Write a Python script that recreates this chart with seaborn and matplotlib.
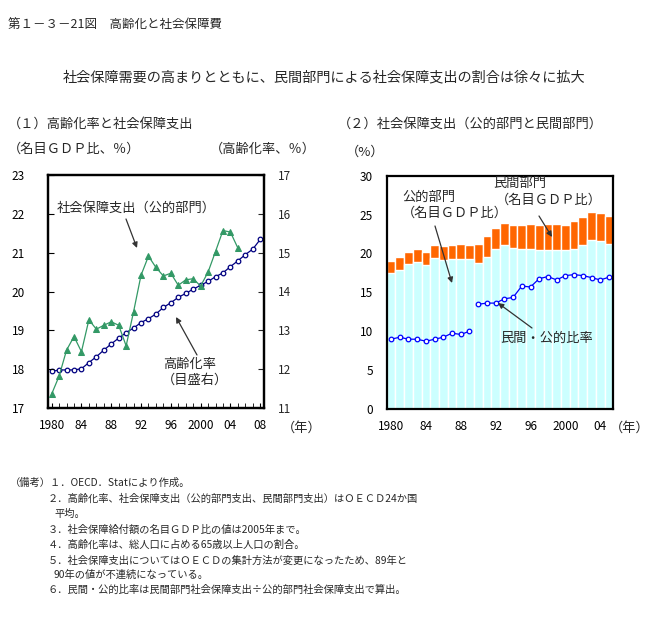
import numpy as np
import pandas as pd
import matplotlib
matplotlib.use("Agg")
import matplotlib.pyplot as plt
import seaborn as sns

# ---------------- data ----------------
spend_years = list(range(1980, 2006))
public_spend_gdp = [17.36, 17.82, 18.49, 18.84, 18.45, 19.27, 19.03, 19.13, 19.22, 19.13,
                    18.60, 19.48, 20.42, 20.91, 20.62, 20.40, 20.47, 20.16, 20.30, 20.33,
                    20.14, 20.50, 21.03, 21.57, 21.53, 21.12]
aging_years = list(range(1980, 2009))
aging_rate = [11.94, 11.98, 11.98, 11.98, 12.01, 12.17, 12.32, 12.49, 12.65, 12.80,
              12.94, 13.06, 13.20, 13.30, 13.42, 13.59, 13.71, 13.85, 13.95, 14.06,
              14.16, 14.26, 14.38, 14.48, 14.64, 14.79, 14.95, 15.09, 15.34]

bar_years = list(range(1980, 2006))
public_bar = [17.5, 17.9, 18.7, 18.9, 18.5, 19.45, 19.2, 19.3, 19.3, 19.3,
              18.8, 19.6, 20.6, 21.1, 20.75, 20.6, 20.6, 20.4, 20.45, 20.45,
              20.4, 20.6, 21.1, 21.8, 21.6, 21.2]
private_bar = [1.55, 1.65, 1.5, 1.67, 1.7, 1.63, 1.77, 1.78, 1.9, 1.8,
               2.4, 2.65, 2.7, 2.83, 2.93, 3.08, 3.2, 3.28, 3.35, 3.35,
               3.28, 3.6, 3.6, 3.55, 3.63, 3.65]
ratio_years_a = list(range(1980, 1990))
ratio_a = [8.94, 9.20, 8.94, 8.94, 8.68, 8.94, 9.20, 9.72, 9.55, 9.97]
ratio_years_b = list(range(1990, 2006))
ratio_b = [13.45, 13.6, 13.6, 14.15, 14.33, 15.8, 15.68, 16.76, 17.02, 16.59,
           17.15, 17.27, 17.15, 16.89, 16.59, 16.94]

left_xticks = [1980, 1984, 1988, 1992, 1996, 2000, 2004, 2008]
left_xlabels = ["1980", "84", "88", "92", "96", "2000", "04", "08"]
right_xticks = [1980, 1984, 1988, 1992, 1996, 2000, 2004]
right_xlabels = ["1980", "84", "88", "92", "96", "2000", "04"]

# ---------------- style ----------------
sns.set_style("white")
plt.rcParams["font.family"] = ["Noto Sans CJK JP", "DejaVu Sans"]

W, H = 667, 623
fig = plt.figure(figsize=(W / 100, H / 100), dpi=100)


def P(x, y):
    return (x / W, 1 - y / H)


def axes_px(l, t, r, b):
    return fig.add_axes([l / W, 1 - b / H, (r - l) / W, (b - t) / H])


FS = 9.5
TFS = 8.5
MS = 3.3

# ---------------- left chart ----------------
ax1 = axes_px(48.3, 175, 264.3, 408)
ax1r = ax1.twinx()

sns.lineplot(x=aging_years, y=aging_rate, ax=ax1r, color="#000080", linewidth=0.9,
             marker="o", markersize=MS, markerfacecolor="white",
             markeredgecolor="#000080", markeredgewidth=0.9)
sns.lineplot(x=spend_years, y=public_spend_gdp, ax=ax1, color="#339966", linewidth=0.9,
             marker="^", markersize=4.6, markerfacecolor="#339966",
             markeredgecolor="#339966")
ax1.set_zorder(ax1r.get_zorder() + 1)
ax1.patch.set_visible(False)

ax1.set_xlim(1979.55, 2008.55)
ax1.set_ylim(17, 23)
ax1r.set_ylim(11, 17)
ax1.set_yticks(range(17, 24))
ax1r.set_yticks(range(11, 18))
ax1.set_xticks(left_xticks)
ax1.set_xticklabels(left_xlabels)
ax1.set_xticks(range(1980, 2009), minor=True)
for a in (ax1, ax1r):
    a.set_xlabel("")
    a.set_ylabel("")
    for s in a.spines.values():
        s.set_linewidth(1.6)
        s.set_color("black")
ax1.tick_params(axis="both", which="both", direction="in", labelsize=TFS, colors="black")
ax1.tick_params(axis="y", length=4, pad=17)
ax1.tick_params(axis="x", which="both", length=3.5, pad=8, bottom=True)
ax1r.tick_params(axis="y", direction="in", length=4, pad=10, labelsize=TFS, right=True)

# ---------------- right chart ----------------
ax2 = axes_px(386.7, 176, 613.3, 408.5)
total_bar = [p + q for p, q in zip(public_bar, private_bar)]
sns.barplot(x=bar_years, y=total_bar, ax=ax2, native_scale=True, width=1.0,
            color="#FF6600", saturation=1, edgecolor="white", linewidth=1.0,
            errorbar=None)
sns.barplot(x=bar_years, y=public_bar, ax=ax2, native_scale=True, width=1.0,
            color="#CCFFFF", saturation=1, edgecolor="white", linewidth=1.0,
            errorbar=None)
sns.lineplot(x=ratio_years_a, y=ratio_a, ax=ax2, color="#0000FF", linewidth=0.9,
             marker="o", markersize=MS, markerfacecolor="white",
             markeredgecolor="#0000FF", markeredgewidth=0.9)
sns.lineplot(x=ratio_years_b, y=ratio_b, ax=ax2, color="#0000FF", linewidth=0.9,
             marker="o", markersize=MS, markerfacecolor="white",
             markeredgecolor="#0000FF", markeredgewidth=0.9)
ax2.set_xlim(1979.5, 2005.5)
ax2.set_ylim(0, 30)
ax2.set_yticks(range(0, 31, 5))
ax2.set_xticks(right_xticks)
ax2.set_xticklabels(right_xlabels)
ax2.set_xticks(range(1980, 2006), minor=True)
ax2.set_xlabel("")
ax2.set_ylabel("")
for s in ax2.spines.values():
    s.set_linewidth(1.6)
    s.set_color("black")
ax2.tick_params(axis="both", which="both", direction="in", labelsize=TFS, colors="black")
ax2.tick_params(axis="y", length=0, pad=10)
ax2.tick_params(axis="x", which="both", length=3.5, pad=8, bottom=True)

# ---------------- texts ----------------
fig.text(*P(8, 25), "第１－３－21図　高齢化と社会保障費", fontsize=9.0, va="center", ha="left")
fig.text(*P(324, 77), "社会保障需要の高まりとともに、民間部門による社会保障支出の割合は徐々に拡大",
         fontsize=10.2, va="center", ha="center")
fig.text(*P(8, 124), "（１）高齢化率と社会保障支出", fontsize=FS, va="center", ha="left")
fig.text(*P(338, 124), "（２）社会保障支出（公的部門と民間部門）", fontsize=FS, va="center", ha="left")
fig.text(*P(8, 149), "（名目ＧＤＰ比、％）", fontsize=FS, va="center", ha="left")
fig.text(*P(210, 149), "（高齢化率、％）", fontsize=FS, va="center", ha="left")
fig.text(*P(346, 152), "（%）", fontsize=FS, va="center", ha="left")
fig.text(*P(282, 428), "（年）", fontsize=FS, va="center", ha="left")
fig.text(*P(610, 428), "（年）", fontsize=FS, va="center", ha="left")

arrow = dict(arrowstyle="-|>", color="#333333", lw=0.9, mutation_scale=8, shrinkA=0, shrinkB=0)

fig.text(*P(57, 208), "社会保障支出（公的部門）", fontsize=FS, va="center", ha="left")
fig.add_artist(matplotlib.patches.FancyArrowPatch(P(126, 219), P(137, 248), transform=fig.transFigure, **arrow))
fig.text(*P(190, 364), "高齢化率", fontsize=FS, va="center", ha="center")
fig.text(*P(195, 380), "（目盛右）", fontsize=FS, va="center", ha="center")
fig.add_artist(matplotlib.patches.FancyArrowPatch(P(197, 355), P(176, 317), transform=fig.transFigure, **arrow))

fig.text(*P(402, 197), "公的部門", fontsize=FS, va="center", ha="left")
fig.text(*P(402, 213), "（名目ＧＤＰ比）", fontsize=FS, va="center", ha="left")
fig.add_artist(matplotlib.patches.FancyArrowPatch(P(435, 226), P(452, 283), transform=fig.transFigure, **arrow))
fig.text(*P(493, 183), "民間部門", fontsize=FS, va="center", ha="left")
fig.text(*P(496, 200), "（名目ＧＤＰ比）", fontsize=FS, va="center", ha="left")
fig.add_artist(matplotlib.patches.FancyArrowPatch(P(539, 216), P(552, 237), transform=fig.transFigure, **arrow))
fig.text(*P(500, 338), "民間・公的比率", fontsize=FS, va="center", ha="left")
fig.add_artist(matplotlib.patches.FancyArrowPatch(P(532, 328), P(498, 303), transform=fig.transFigure, **arrow))

NFS = 7.4
notes = [
    (10, 483, "（備考）１．OECD．Statにより作成。"),
    (48, 499, "２．高齢化率、社会保障支出（公的部門支出、民間部門支出）はＯＥＣＤ24か国"),
    (54, 514, "平均。"),
    (48, 530, "３．社会保障給付額の名目ＧＤＰ比の値は2005年まで。"),
    (48, 545, "４．高齢化率は、総人口に占める65歳以上人口の割合。"),
    (48, 561, "５．社会保障支出についてはＯＥＣＤの集計方法が変更になったため、89年と"),
    (54, 575, "90年の値が不連続になっている。"),
    (48, 590, "６．民間・公的比率は民間部門社会保障支出÷公的部門社会保障支出で算出。"),
]
for x, y, t in notes:
    fig.text(*P(x, y), t, fontsize=NFS, va="center", ha="left")

fig.savefig("out.png", dpi=100)
